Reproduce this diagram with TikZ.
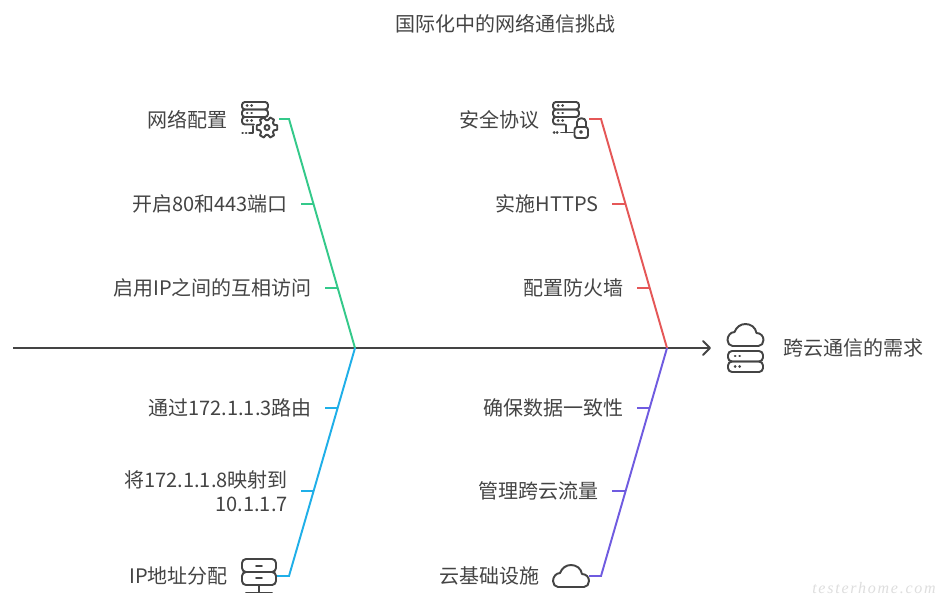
\documentclass[tikz,border=0pt]{standalone}
\usepackage{fontspec}
\setmainfont{Noto Sans CJK SC}
\newfontfamily\wmfont[LetterSpace=11]{Liberation Serif}
\usepackage{tikz}

\definecolor{inkgray}{HTML}{444444}
\definecolor{ribgreen}{HTML}{34C98A}
\definecolor{ribred}{HTML}{E55757}
\definecolor{ribblue}{HTML}{1FAFE8}
\definecolor{ribpurple}{HTML}{6F5BE0}

\tikzset{
	txt/.style={text=inkgray,font=\fontsize{15}{18}\selectfont,inner ysep=0pt,inner xsep=0pt},
	tick/.style={txt,anchor=east,inner xsep=9.75pt,align=right},
	ico/.style={shape=rectangle,inner sep=0pt,minimum width=#1},
	icoline/.style={draw=inkgray,line width=1.45pt,line cap=round,line join=round},
	dot/.style={inkgray,line width=1.9pt,line cap=round},
	spine/.style={draw=inkgray,line width=1.35pt},
	rib/.style={draw=#1,line width=1.45pt},
	cloudicon/.pic={
		\draw[icoline] (-13,11) -- (13,11) .. controls (16,11) and (18,8) .. (18,5)
			.. controls (18,1) and (15,-2) .. (11,-2) .. controls (10,-8) and (5,-11) .. (0,-11)
			.. controls (-5,-11) and (-9,-8) .. (-11,-3) .. controls (-15,-3) and (-18,1) .. (-18,5)
			.. controls (-18,8) and (-16,11) .. (-13,11) -- cycle;
	},
	threebars/.pic={
		\draw[icoline,rounded corners=2.2pt] (0,0) rectangle (26,7.5);
		\draw[icoline,rounded corners=2.2pt] (0,7.5) rectangle (26,15);
		\draw[icoline,rounded corners=2.2pt] (21,15) -- (0,15) -- (0,22.5) -- (12,22.5);
		\foreach \y in {3.7,11.2,18.7} {
			\draw[dot] (5,\y) -- (5.3,\y);
			\draw[dot] (9.5,\y) -- (9.8,\y);
		}
	},
}

\begin{document}
\begin{tikzpicture}[x=0.75pt,y=-0.75pt]
	\fill[white] (0,0) rectangle (937,607);
	\useasboundingbox (0,0) rectangle (937,607);

	\node[txt] (title) at (505,24) {国际化中的网络通信挑战};

	\coordinate (start) at (13,348);
	\coordinate (hubl) at (355,348);
	\coordinate (hubr) at (667,348);
	\coordinate (tip) at (710,348);

	\coordinate (bend1) at (289,119);
	\coordinate (bend2) at (601,119);
	\coordinate (bend3) at (289,576);
	\coordinate (bend4) at (601,576);

	\coordinate (j1) at (313,204);
	\coordinate (j2) at (338,288);
	\coordinate (j3) at (625,204);
	\coordinate (j4) at (650,288);
	\coordinate (j5) at (338,408);
	\coordinate (j6) at (314,491);
	\coordinate (j7) at (650,408);
	\coordinate (j8) at (625,491);

	\node[ico=10pt] (netcfg) at (272.3,119) {};
	\node[ico=10pt] (secure) at (582.3,119) {};
	\node[ico=10pt] (ipbox) at (269.3,576) {};
	\node[ico=10pt] (infra) at (582.3,576) {};

	\node[txt,anchor=east] (l1) at (228,120) {网络配置};
	\node[tick] (l2) at (301,204) {开启80和443端口};
	\node[tick] (l3) at (325,288) {启用IP之间的互相访问};
	\node[txt,anchor=east] (l4) at (540,120) {安全协议};
	\node[tick] (l5) at (612,204) {实施HTTPS};
	\node[tick] (l6) at (637,288) {配置防火墙};
	\node[tick] (l7) at (325,408) {通过172.1.1.3路由};
	\node[tick] (l8) at (301,491) {将172.1.1.8映射到\\10.1.1.7};
	\node[txt,anchor=east] (l9) at (228,576) {IP地址分配};
	\node[tick] (l10) at (637,408) {确保数据一致性};
	\node[tick] (l11) at (612,491) {管理跨云流量};
	\node[txt,anchor=east] (l12) at (540,576) {云基础设施};
	\node[txt,anchor=west] (goal) at (783,348) {跨云通信的需求};

	\node[anchor=east,inner sep=0pt,text=black!13,font=\wmfont\itshape\fontsize{12}{15}\selectfont] (mark) at (936,588) {testerhome.com};

	\draw[spine] (start) -- (tip);
	\draw[icoline] (703,341) -- (710,348) -- (703,355);

	\draw[rib=ribgreen] (netcfg.east) -- (bend1) -- (hubl);
	\draw[rib=ribred] (secure.east) -- (bend2) -- (hubr);
	\draw[rib=ribblue] (ipbox.east) -- (bend3) -- (hubl);
	\draw[rib=ribpurple] (infra.east) -- (bend4) -- (hubr);

	\path[rib=ribgreen] (l2) edge (j1);
	\path[rib=ribgreen] (l3) edge (j2);
	\path[rib=ribred] (l5) edge (j3);
	\path[rib=ribred] (l6) edge (j4);
	\path[rib=ribblue] (l7) edge (j5);
	\path[rib=ribblue] (l8) edge (j6);
	\path[rib=ribpurple] (l10) edge (j7);
	\path[rib=ribpurple] (l11) edge (j8);

	% server with gear
	\pic at (242,102) {threebars};
	\draw[icoline] (249,133) -- (253,133) -- (253,126);
	\draw[dot] (242.5,133) -- (242.8,133);
	\draw[dot] (246,133) -- (246.3,133);
	\begin{scope}[shift={(267,127.5)}]
		\draw[icoline,fill=white] (-12:10.5) -- (12:10.5) -- (22:7.5) -- (38:7.5) -- (48:10.5) -- (72:10.5) -- (82:7.5) -- (98:7.5) -- (108:10.5) -- (132:10.5) -- (142:7.5) -- (158:7.5) -- (168:10.5) -- (192:10.5) -- (202:7.5) -- (218:7.5) -- (228:10.5) -- (252:10.5) -- (262:7.5) -- (278:7.5) -- (288:10.5) -- (312:10.5) -- (322:7.5) -- (338:7.5) -- cycle;
		\draw[icoline] (0,0) circle (2.5);
	\end{scope}

	% server with lock
	\pic at (553,102) {threebars};
	\draw[icoline] (566,125) -- (566,132.5);
	\draw[icoline] (561,132.5) -- (573,132.5);
	\draw[dot] (554,132.5) -- (554.3,132.5);
	\draw[dot] (557,132.5) -- (557.3,132.5);
	\draw[icoline,fill=white,rounded corners=2pt] (574.5,127) rectangle (588,138);
	\draw[icoline] (577,127) -- (577,122) .. controls (577,117) and (586,117) .. (586,122) -- (586,127);
	\draw[icoline] (581,132) circle (1);

	% server on stand
	\draw[icoline,rounded corners=3pt] (242,559) rectangle (276,572);
	\draw[icoline,rounded corners=3pt] (242,572) rectangle (276,585);
	\draw[icoline] (256,566) -- (262,566);
	\draw[icoline] (256,578) -- (262,578);
	\draw[icoline] (259,585) -- (259,592);
	\draw[icoline] (246,592.5) -- (272,592.5);

	\pic at (571,576) {cloudicon};

	% cloud over servers
	\pic at (745.5,335) {cloudicon};
	\draw[icoline,rounded corners=3pt] (728,351) rectangle (763,361.5);
	\draw[icoline,rounded corners=3pt] (728,361.5) rectangle (763,372);
	\foreach \y in {356,366.5} {
		\draw[dot] (735,\y) -- (735.3,\y);
		\draw[dot] (739.5,\y) -- (739.8,\y);
	}
\end{tikzpicture}
\end{document}
